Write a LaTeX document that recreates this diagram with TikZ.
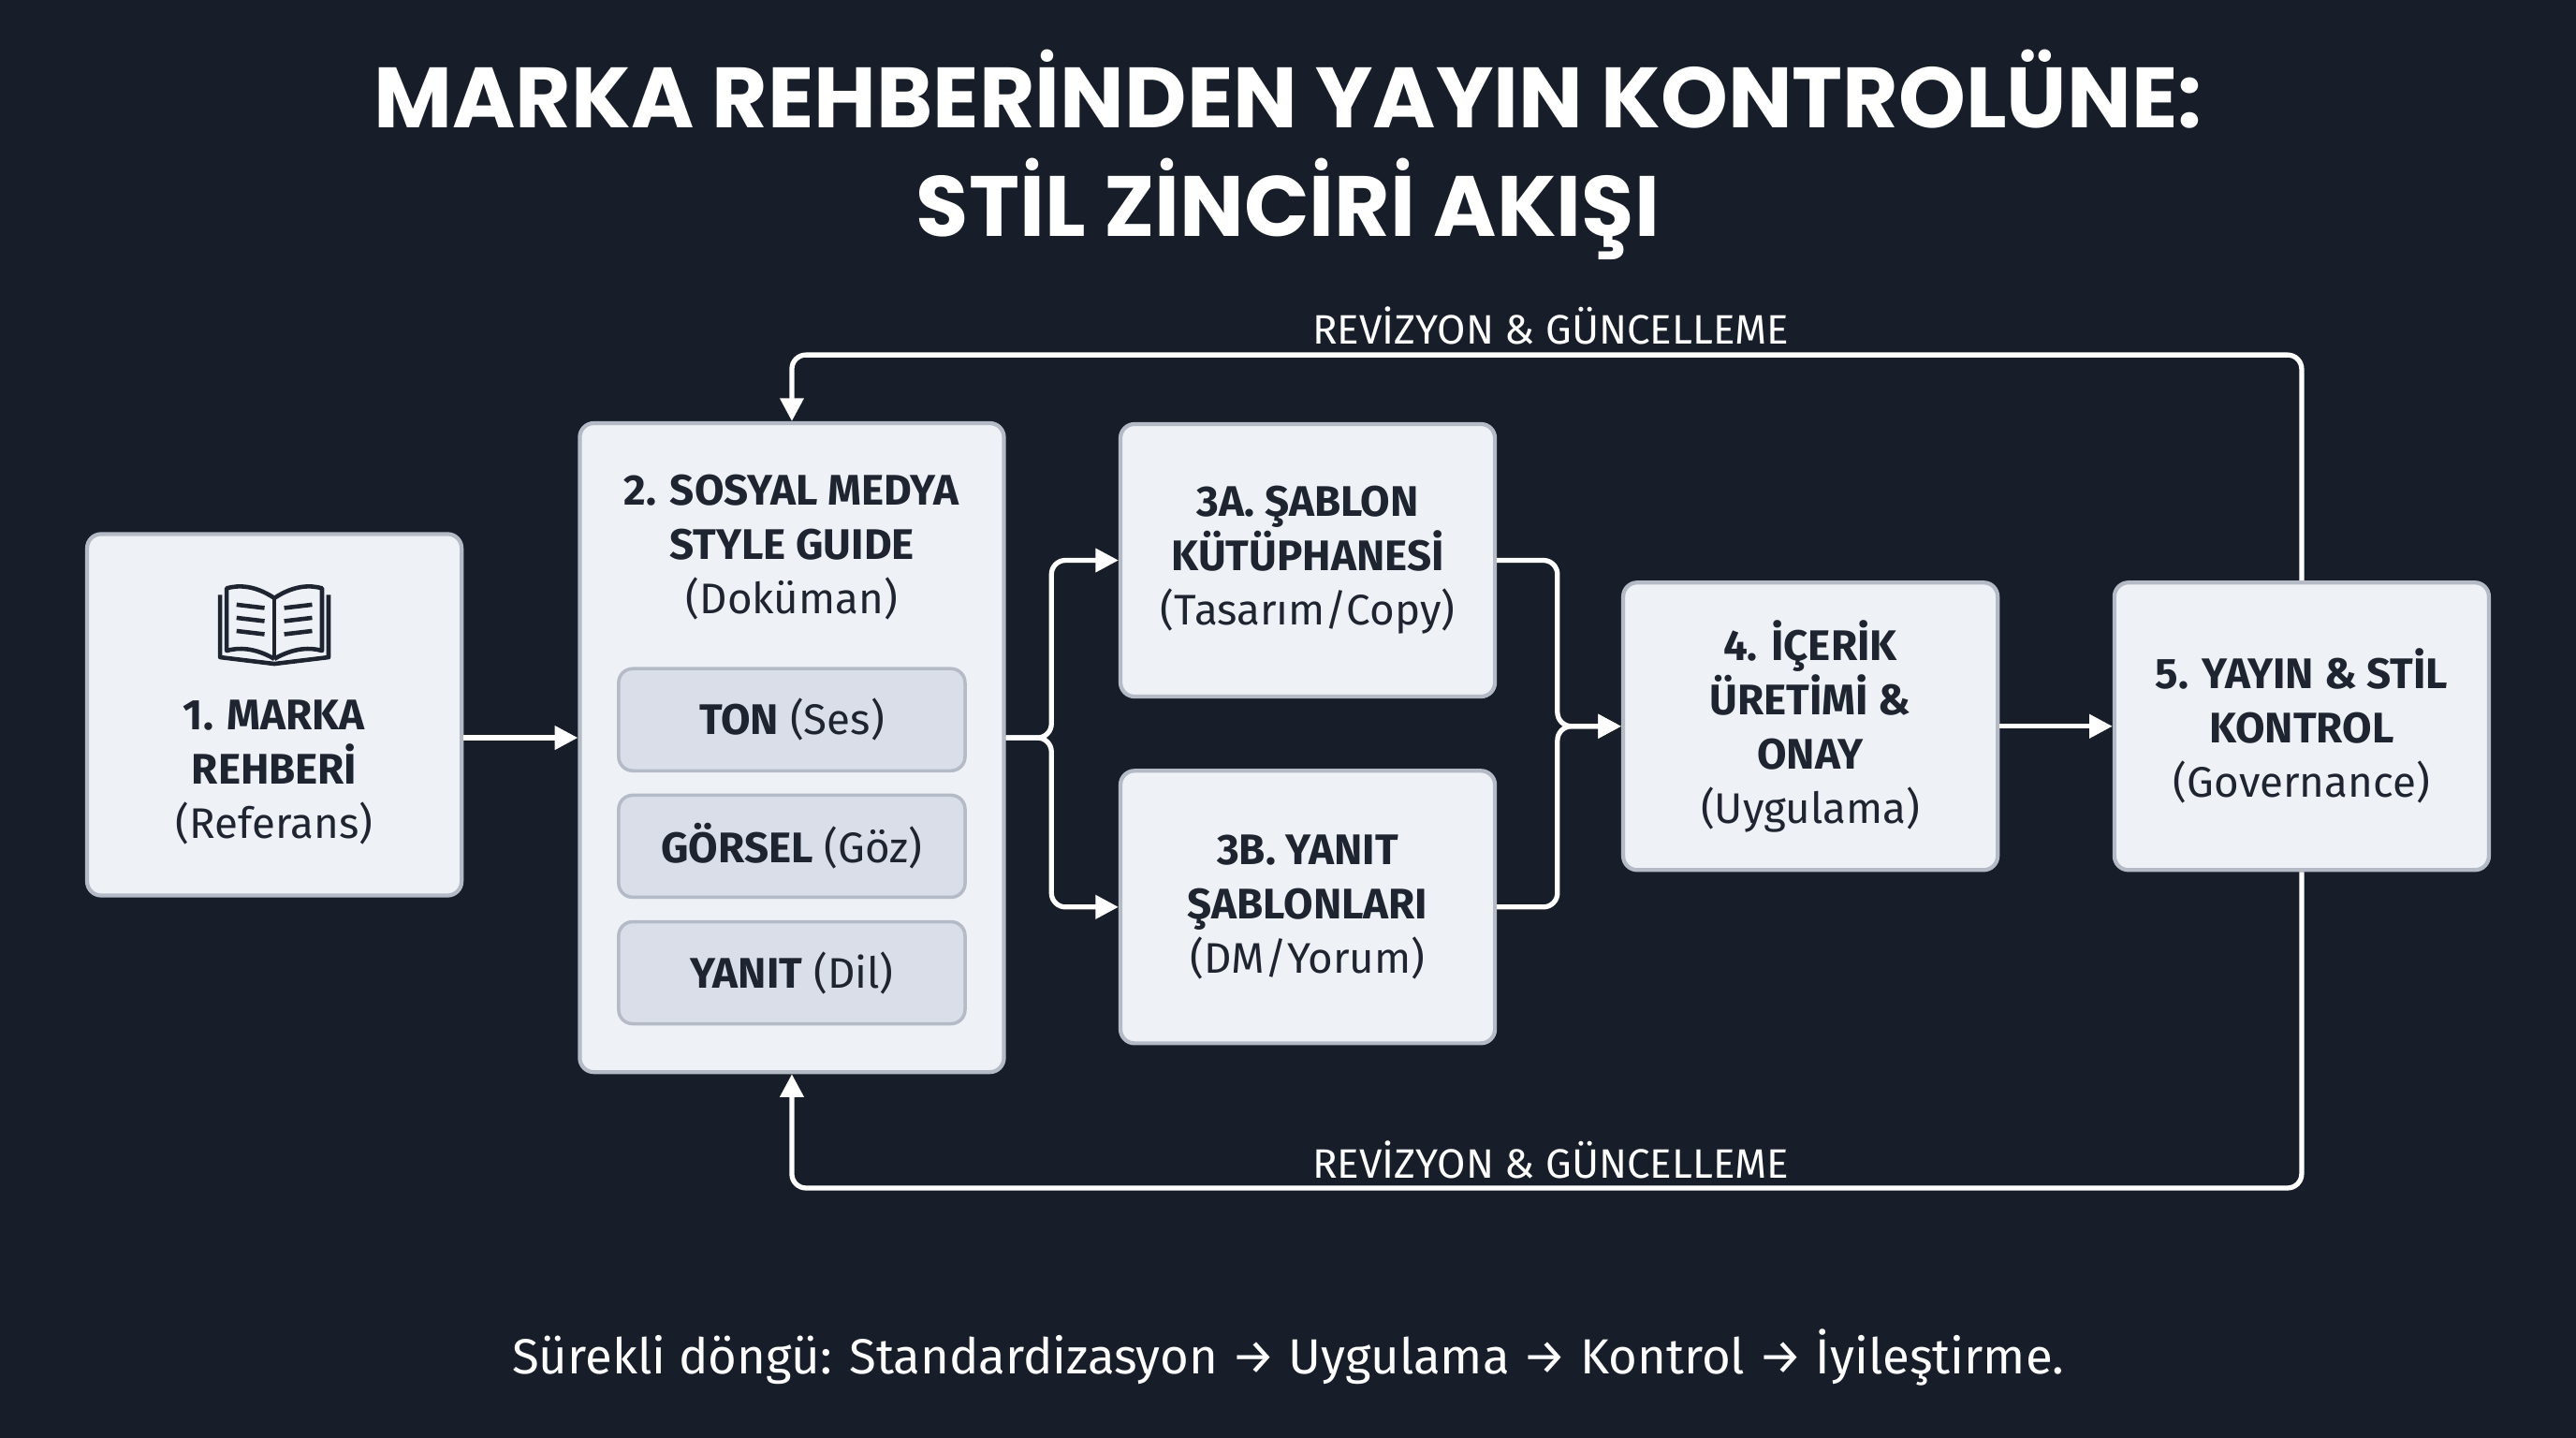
\documentclass[tikz,border=0pt]{standalone}
\usepackage{fontspec}
\setmainfont{Fira Sans}
\newfontfamily\titlefont{Poppins}
\usetikzlibrary{arrows.meta}
\definecolor{bg}{HTML}{181E29}
\definecolor{boxf}{HTML}{EEF1F6}
\definecolor{boxd}{HTML}{B4BAC6}
\definecolor{pill}{HTML}{D9DEE8}
\definecolor{txt}{HTML}{1E2430}
\begin{document}
\begin{tikzpicture}[x=0.01755cm,y=-0.01755cm,
 box/.style={draw=boxd,line width=1.2pt,fill=boxf,rounded corners=0.15cm,align=center,text=txt,font=\fontsize{13}{16.5}\selectfont},
 pillbox/.style={draw=boxd,line width=1pt,fill=pill,rounded corners=0.15cm,minimum width=3.70cm,minimum height=1.09cm,text=txt,font=\fontsize{13}{16}\selectfont},
 conn/.style={draw=white,line width=1.5pt,rounded corners=0.15cm},
 arr/.style={conn,-{Triangle[length=7pt,width=7pt]}},
 lbl/.style={text=white,font=\fontsize{12.5}{15}\selectfont}]
\fill[bg] (0,0) rectangle (1568,875);
\node[text=white,align=center,font=\fontsize{26}{33}\selectfont\titlefont\bfseries] (title) at (784,94) {MARKA REHBERİNDEN YAYIN KONTROLÜNE:\\STİL ZİNCİRİ AKIŞI};
\node[box,minimum width=4.00cm,minimum height=3.86cm] (b1) at (167,435) {};
\node[text=txt,align=center,font=\fontsize{13}{16.5}\selectfont] (t1) at (167,470) {\textbf{1. MARKA}\\\textbf{REHBERİ}\\(Referans)};
% book icon
\begin{scope}[draw=txt,line width=1.3pt,line join=round]
\draw (167,364) .. controls (155,356) and (145,356) .. (138,358) -- (138,396) .. controls (145,394) and (155,394) .. (167,401);
\draw (167,364) .. controls (179,356) and (189,356) .. (196,358) -- (196,396) .. controls (189,394) and (179,394) .. (167,401);
\draw (167,364) -- (167,401);
\draw (134,362) -- (134,400) -- (167,404) -- (200,400) -- (200,362);
\foreach \yy in {368,376,384} {\draw (144,\yy) -- (161,\yy+2); \draw (190,\yy) -- (173,\yy+2);}
\end{scope}
\node[box,minimum width=4.53cm,minimum height=6.93cm] (b2) at (482,455) {};
\node[text=txt,align=center,font=\fontsize{13}{16.5}\selectfont] (t2) at (482,333) {\textbf{2. SOSYAL MEDYA}\\\textbf{STYLE GUIDE}\\(Doküman)};
\node[pillbox] (p1) at (482,438) {\textbf{TON} (Ses)};
\node[pillbox] (p2) at (482,515) {\textbf{GÖRSEL} (Göz)};
\node[pillbox] (p3) at (482,592) {\textbf{YANIT} (Dil)};
\node[box,minimum width=4.00cm,minimum height=2.91cm] (b3a) at (796,341) {\textbf{3A. ŞABLON}\\\textbf{KÜTÜPHANESİ}\\(Tasarım/Copy)};
\node[box,minimum width=4.00cm,minimum height=2.91cm] (b3b) at (796,552) {\textbf{3B. YANIT}\\\textbf{ŞABLONLARI}\\(DM/Yorum)};
\node[box,minimum width=4.00cm,minimum height=3.07cm] (b4) at (1102,442) {\textbf{4. İÇERİK}\\\textbf{ÜRETİMİ \&}\\\textbf{ONAY}\\(Uygulama)};
\node[box,minimum width=4.00cm,minimum height=3.07cm] (b5) at (1401,442) {\textbf{5. YAYIN \& STİL}\\\textbf{KONTROL}\\(Governance)};
\coordinate (s) at (640,449);
\draw[arr] (b1.east|-s) -- (b2.west|-s);
\draw[arr] (b2.east|-s) -- (s) -- (s|-b3a.west) -- (b3a.west);
\draw[arr] (b2.east|-s) -- (s) -- (s|-b3b.west) -- (b3b.west);
\coordinate (m) at (948,442);
\draw[arr] (b3a.east) -- (m|-b3a.east) -- (m) -- (b4.west);
\draw[arr] (b3b.east) -- (m|-b3b.east) -- (m) -- (b4.west);
\draw[arr] (b4.east) -- (b5.west);
\coordinate (tl) at (482,216);
\coordinate (bl) at (482,723);
\draw[arr] (b5.north) -- (b5.north|-tl) -- (tl) -- (b2.north);
\draw[arr] (b5.south) -- (b5.south|-bl) -- (bl) -- (b2.south);
\node[lbl] (l1) at (944,198) {REVİZYON \& GÜNCELLEME};
\node[lbl] (l2) at (944,706) {REVİZYON \& GÜNCELLEME};
\node[text=white,font=\fontsize{15}{18}\selectfont] (foot) at (784,826) {Sürekli döngü: Standardizasyon → Uygulama → Kontrol → İyileştirme.};
\end{tikzpicture}
\end{document}
